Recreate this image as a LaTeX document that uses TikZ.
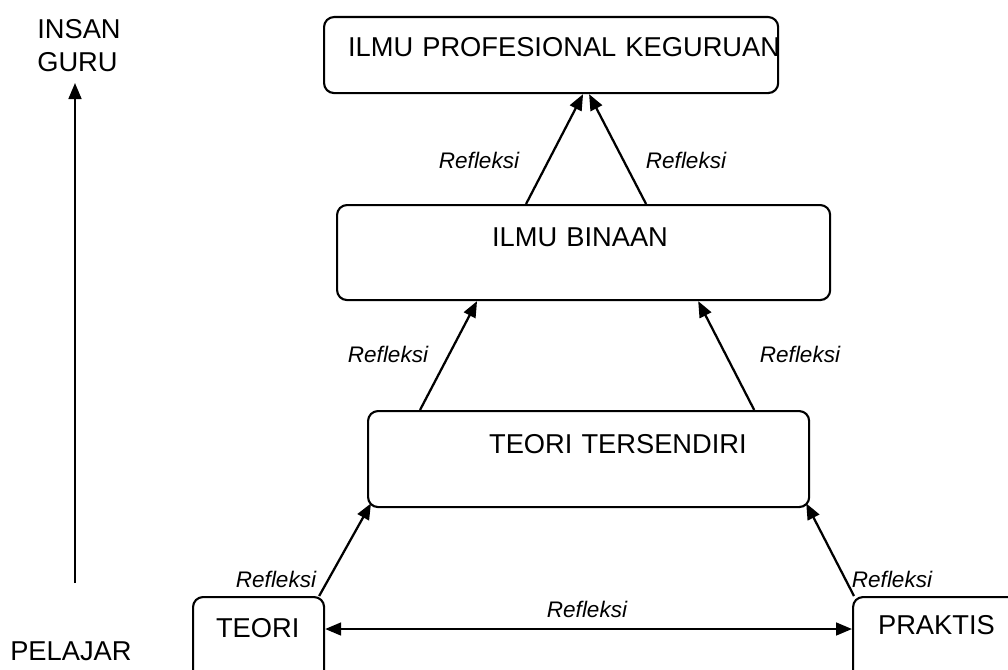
\documentclass[tikz,border=0pt]{standalone}
\usepackage{fontspec}
\setmainfont{Liberation Sans}
\usetikzlibrary{arrows.meta}

\begin{document}
\begin{tikzpicture}[x=0.025cm, y=-0.025cm]
  % Define style for the boxes, arrows and labels
  \tikzstyle{kotak}=[draw, line width=1.5pt, rounded corners=0.25cm, inner sep=0pt, anchor=north west, align=left, font=\fontsize{19.4}{23}\selectfont]
  \tikzstyle{panah}=[line width=1.6pt, -{Triangle[length=0.4cm, width=0.32cm]}]
  \tikzstyle{refleksi}=[inner sep=0pt, anchor=base, font=\fontsize{16}{19}\selectfont\itshape]
  \tikzstyle{tahap}=[inner sep=0pt, anchor=base west, align=left, font=\fontsize{19.4}{24}\selectfont]

  \useasboundingbox (0,0) rectangle (1008,670);
  \clip (0,0) rectangle (1008,670);

  % Boxes
  \node[kotak, text width=11.35cm, text height=0.975cm, text depth=0.925cm] (profesional) at (323,16) {\hspace*{0.6cm}\mbox{ILMU PROFESIONAL KEGURUAN}};
  \node[kotak, text width=12.325cm, text height=1.025cm, text depth=1.35cm] (binaan) at (336,204) {\hspace*{3.875cm}\mbox{ILMU BINAAN}};
  \node[kotak, text width=11.025cm, text height=1.05cm, text depth=1.35cm] (sendiri) at (367,410) {\hspace*{3.025cm}\mbox{TEORI TERSENDIRI}};
  \node[kotak, text width=3.275cm, text height=1.0cm, text depth=1.6cm] (teori) at (192,596) {\hspace*{0.575cm}\mbox{TEORI}};
  \node[kotak, text width=4.45cm, text height=0.925cm, text depth=1.675cm] (praktis) at (852,596) {\hspace*{0.625cm}\mbox{PRAKTIS}};

  % Stages on the left
  \node[tahap] (insan) at (37,72) {INSAN\\GURU};
  \node[tahap] (pelajar) at (10,660) {PELAJAR};
  \coordinate (awal) at (75,583);
  \coordinate (akhir) at (75,83);
  \draw[panah] (awal) -- (akhir);

  % Arrows between boxes
  \draw[panah] ([xshift=-0.15cm]teori.north east) -- ([shift={(0.1cm,0.12cm)}]sendiri.south west);
  \draw[panah] ([xshift=0.05cm]praktis.north west) -- ([shift={(-0.1cm,0.12cm)}]sendiri.south east);
  \draw[panah] ([xshift=1.325cm]sendiri.north west) -- ([xshift=3.525cm]binaan.south west);
  \draw[panah] ([xshift=-1.4cm]sendiri.north east) -- ([xshift=-3.325cm]binaan.south east);
  \draw[panah] ([xshift=4.75cm]binaan.north west) -- ([xshift=6.5cm]profesional.south west);
  \draw[panah] ([xshift=7.75cm]binaan.north west) -- ([xshift=6.65cm]profesional.south west);
  \draw[panah, {Triangle[length=0.4cm, width=0.32cm]}-{Triangle[length=0.4cm, width=0.32cm]}] ([yshift=-0.825cm]teori.north east) -- ([yshift=-0.825cm]praktis.north west);

  % Labels
  \node[refleksi] (r1) at (479,168) {Refleksi};
  \node[refleksi] (r2) at (686,168) {Refleksi};
  \node[refleksi] (r3) at (388,362) {Refleksi};
  \node[refleksi] (r4) at (800,362) {Refleksi};
  \node[refleksi] (r5) at (276,587) {Refleksi};
  \node[refleksi] (r6) at (892,587) {Refleksi};
  \node[refleksi] (r7) at (587,617) {Refleksi};
\end{tikzpicture}
\end{document}
